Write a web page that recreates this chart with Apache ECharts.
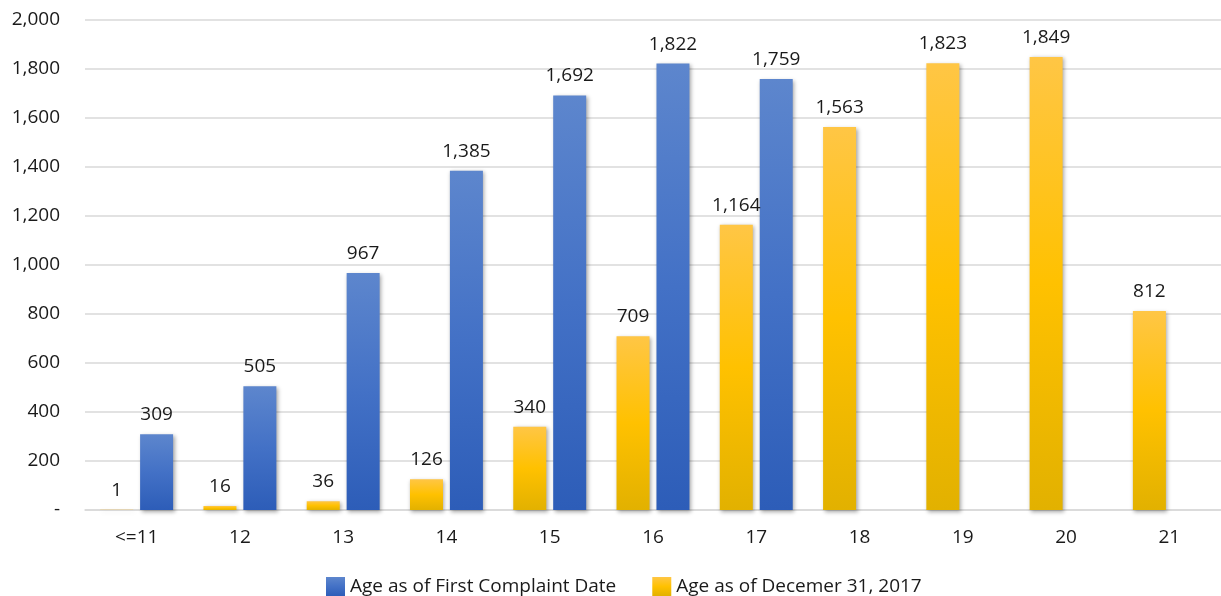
<!DOCTYPE html>
<html>
<head>
<meta charset="utf-8">
<script src="https://cdn.jsdelivr.net/npm/echarts@6/dist/echarts.min.js"></script>
<style>
  html, body { margin: 0; padding: 0; background: #ffffff; }
  #chart { width: 1221px; height: 596px; }
</style>
</head>
<body>
<div id="chart"></div>
<script>
// Age groups along the x axis
const categories = ['<=11', '12', '13', '14', '15', '16', '17', '18', '19', '20', '21'];

// Counts by age as of December 31, 2017
const ageDec2017 = [1, 16, 36, 126, 340, 709, 1164, 1563, 1823, 1849, 812];

// Counts by age as of first complaint date (no data past 17)
const ageFirstComplaint = [309, 505, 967, 1385, 1692, 1822, 1759, null, null, null, null];

// Value axis ticks
const yTicks = [0, 200, 400, 600, 800, 1000, 1200, 1400, 1600, 1800, 2000];

const seriesNames = ['Age as of First Complaint Date', 'Age as of Decemer 31, 2017'];

const FONT = '"Open Sans", "Noto Sans", sans-serif';
const FS = 19;
const TEXT = '#1a1a1a';

const fmt = v => Number(v).toLocaleString('en-US');

const blueFill = new echarts.graphic.LinearGradient(0, 0, 0, 1, [
  { offset: 0, color: '#5d86cd' },
  { offset: 0.5, color: '#4371c6' },
  { offset: 1, color: '#2d5db8' }
]);
const yellowFill = new echarts.graphic.LinearGradient(0, 0, 0, 1, [
  { offset: 0, color: '#ffc645' },
  { offset: 0.5, color: '#ffc100' },
  { offset: 1, color: '#e2b100' }
]);

const barShadow = {
  shadowBlur: 4,
  shadowColor: 'rgba(0,0,0,0.35)',
  shadowOffsetX: 1.5,
  shadowOffsetY: 1.5
};

const barLabel = {
  show: true,
  position: 'top',
  distance: 10,
  fontFamily: FONT,
  fontSize: FS,
  color: TEXT,
  formatter: p => fmt(p.value)
};

const chart = echarts.init(document.getElementById('chart'), null, { renderer: 'canvas' });

chart.setOption({
  backgroundColor: '#ffffff',
  animation: false,
  textStyle: { fontFamily: FONT },
  grid: { left: 85, right: 0, top: 20, bottom: 86, containLabel: false },
  legend: {
    data: [seriesNames[0], seriesNames[1]],
    left: 326,
    top: 577,
    itemWidth: 19,
    itemHeight: 19,
    itemGap: 36,
    icon: 'rect',
    padding: 0,
    textStyle: { fontFamily: FONT, fontSize: FS, color: TEXT }
  },
  xAxis: {
    type: 'category',
    data: categories,
    axisLine: { show: true, lineStyle: { color: '#d9d9d9', width: 1.5 } },
    axisTick: { show: false },
    axisLabel: { fontFamily: FONT, fontSize: FS, color: TEXT, margin: 18 }
  },
  yAxis: {
    type: 'value',
    min: yTicks[0],
    max: yTicks[yTicks.length - 1],
    interval: yTicks[1] - yTicks[0],
    axisLine: { show: false },
    axisTick: { show: false },
    splitLine: { lineStyle: { color: '#d9d9d9', width: 1.5 } },
    axisLabel: {
      fontFamily: FONT,
      fontSize: FS,
      color: TEXT,
      margin: 25,
      formatter: v => (v === 0 ? '-' : fmt(v))
    }
  },
  series: [
    {
      name: seriesNames[1],
      type: 'bar',
      data: ageDec2017,
      barWidth: 33,
      barGap: '21%',
      itemStyle: Object.assign({ color: yellowFill }, barShadow),
      label: barLabel
    },
    {
      name: seriesNames[0],
      type: 'bar',
      data: ageFirstComplaint,
      barWidth: 33,
      barGap: '21%',
      itemStyle: Object.assign({ color: blueFill }, barShadow),
      label: barLabel
    }
  ]
});
</script>
</body>
</html>
